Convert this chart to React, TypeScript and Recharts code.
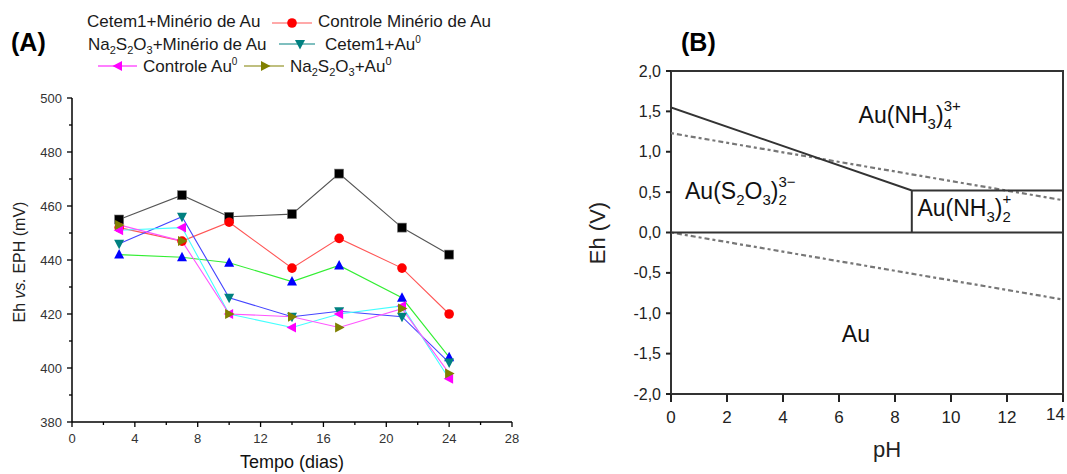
import React from 'react';
import {
  LineChart,
  Line,
  XAxis,
  YAxis,
  Legend,
  Label,
  ComposedChart,
  Scatter,
  ReferenceArea,
} from 'recharts';

const FONT = 'Arial, "Liberation Sans", sans-serif';

// ---------- Panel A data ----------
const days = [3, 7, 10, 14, 17, 21, 24];
const cetem1Minerio = [455, 464, 456, 457, 472, 452, 442];
const controleMinerio = [452, 447, 454, 437, 448, 437, 420];
const tiossulfatoMinerio = [442, 441, 439, 432, 438, 426, 404];
const cetem1Au = [446, 456, 426, 419, 421, 419, 402];
const controleAu = [451, 452, 420, 415, 420, 423, 396];
const tiossulfatoAu = [453, 447, 420, 419, 415, 422, 398];
const xTicksA = [0, 2, 4, 6, 8, 10, 12, 14, 16, 18, 20, 22, 24, 26, 28];
const yTicksA = [380, 390, 400, 410, 420, 430, 440, 450, 460, 470, 480, 490, 500];

const seriesNames = [
  'Cetem1+Minério de Au',
  'Controle Minério de Au',
  'Na2S2O3+Minério de Au',
  'Cetem1+Au0',
  'Controle Au0',
  'Na2S2O3+Au0',
];
const seriesValues = [cetem1Minerio, controleMinerio, tiossulfatoMinerio, cetem1Au, controleAu, tiossulfatoAu];
const markerColors = ['#000000', '#ff0000', '#0000ff', '#008080', '#ff00ff', '#808000'];
const lineColors = ['#555555', '#ff5555', '#33ee33', '#4444ff', '#44ffff', '#ff55ff'];
const markerShapes = ['square', 'circle', 'up', 'down', 'left', 'right'];

const dataA = days.map((d, i) => {
  const row: any = { day: d };
  seriesValues.forEach((vals, k) => {
    row['s' + k] = vals[i];
  });
  return row;
});

// ---------- Panel B data ----------
const xTicksB = [0, 2, 4, 6, 8, 10, 12, 14];
const yTicksB = [-2, -1.5, -1, -0.5, 0, 0.5, 1, 1.5, 2];
const nh3Boundary = [
  { ph: 0, eh: 1.55 },
  { ph: 8.6, eh: 0.52 },
  { ph: 14, eh: 0.52 },
];
const verticalBoundary = [
  { ph: 8.6, eh: 0.52 },
  { ph: 8.6, eh: 0 },
];
const zeroBoundary = [
  { ph: 0, eh: 0 },
  { ph: 14, eh: 0 },
];
const oxygenLine = [
  { ph: 0, eh: 1.23 },
  { ph: 14, eh: 0.4 },
];
const hydrogenLine = [
  { ph: 0, eh: 0 },
  { ph: 14, eh: -0.83 },
];
const speciesLabels = [
  { ph: 6.7, eh: 1.35, id: 'nh34' },
  { ph: 0.5, eh: 0.42, id: 's2o3' },
  { ph: 8.8, eh: 0.2, id: 'nh32' },
  { ph: 6.1, eh: -1.36, id: 'au' },
];

// ---------- helpers ----------
type Part = { t: string; k?: 'n' | 'sub' | 'sup'; dx?: number };

function Rich({ x, y, size, parts, fill = '#111', subShift, supShift, small }: any) {
  let cur = 0;
  const sub = subShift ?? size * 0.28;
  const sup = supShift ?? size * 0.42;
  const sm = small ?? size * 0.68;
  return (
    <text x={x} y={y} fontSize={size} fontFamily={FONT} fill={fill}>
      {parts.map((p: Part, i: number) => {
        const kind = p.k || 'n';
        const target = kind === 'sub' ? sub : kind === 'sup' ? -sup : 0;
        const dy = target - cur;
        cur = target;
        return (
          <tspan key={i} dy={dy} dx={p.dx || 0} fontSize={kind === 'n' ? size : sm}>
            {p.t}
          </tspan>
        );
      })}
    </text>
  );
}

function Marker({ cx, cy, shape, color }: any) {
  if (cx == null || cy == null) return null;
  switch (shape) {
    case 'square':
      return <rect x={cx - 4.5} y={cy - 4.5} width={9} height={9} fill={color} stroke="#777" strokeWidth={0.6} />;
    case 'circle':
      return <circle cx={cx} cy={cy} r={4.8} fill={color} />;
    case 'up':
      return <polygon points={`${cx},${cy - 5.5} ${cx + 5},${cy + 4} ${cx - 5},${cy + 4}`} fill={color} />;
    case 'down':
      return <polygon points={`${cx},${cy + 5.5} ${cx + 5},${cy - 4} ${cx - 5},${cy - 4}`} fill={color} />;
    case 'left':
      return <polygon points={`${cx - 5.5},${cy} ${cx + 4},${cy - 5} ${cx + 4},${cy + 5}`} fill={color} />;
    case 'right':
      return <polygon points={`${cx + 5.5},${cy} ${cx - 4},${cy - 5} ${cx - 4},${cy + 5}`} fill={color} />;
    default:
      return null;
  }
}

const YTickA = (props: any) => {
  const { x, y, payload } = props;
  const major = payload.value % 20 === 0;
  return (
    <g>
      <line x1={x} x2={x - (major ? 5 : 3)} y1={y} y2={y} stroke="#000" strokeWidth={1.3} />
      {major && (
        <text x={x - 10} y={y + 4.5} textAnchor="end" fontSize={13} fontFamily={FONT} fill="#333">
          {payload.value}
        </text>
      )}
    </g>
  );
};

const XTickA = (props: any) => {
  const { x, y, payload } = props;
  const major = payload.value % 4 === 0;
  return (
    <g>
      <line x1={x} x2={x} y1={y} y2={y + (major ? 5 : 3)} stroke="#000" strokeWidth={1.3} />
      {major && (
        <text x={x} y={y + 21} textAnchor="middle" fontSize={13} fontFamily={FONT} fill="#333">
          {payload.value}
        </text>
      )}
    </g>
  );
};

const YTickB = (props: any) => {
  const { x, y, payload } = props;
  const label = payload.value.toFixed(1).replace('.', ',');
  return (
    <g>
      <line x1={x} x2={x - 5} y1={y} y2={y} stroke="#222" strokeWidth={2} />
      <text x={x - 10} y={y + 5.5} textAnchor="end" fontSize={16} fontFamily={FONT} fill="#222">
        {label}
      </text>
    </g>
  );
};

const XTickB = (props: any) => {
  const { x, y, payload } = props;
  const last = payload.value === 14;
  return (
    <g>
      <line x1={x} x2={x} y1={y} y2={y + 8} stroke="#222" strokeWidth={2} />
      <text
        x={last ? x + 2 : x}
        y={y + (last ? 26 : 29)}
        textAnchor={last ? 'end' : 'middle'}
        fontSize={17}
        fontFamily={FONT}
        fill="#222"
      >
        {payload.value}
      </text>
    </g>
  );
};

const LegendA = () => {
  const fs = 17;
  const tc = '#1a1a1a';
  return (
    <svg width={540} height={80} style={{ display: 'block' }}>
      <text x={11} y={51} fontSize={25} fontWeight="bold" fontFamily={FONT} fill="#000">
        (A)
      </text>
      {/* row 1 */}
      <Rich x={87} y={27} size={fs} fill={tc} parts={[{ t: seriesNames[0] }]} />
      <line x1={272} x2={312} y1={23} y2={23} stroke={lineColors[1]} strokeWidth={1.2} />
      <Marker cx={292} cy={23} shape={markerShapes[1]} color={markerColors[1]} />
      <Rich x={318} y={27} size={fs} fill={tc} parts={[{ t: seriesNames[1] }]} />
      {/* row 2 */}
      <Rich
        x={88}
        y={50}
        size={fs}
        fill={tc}
        small={11}
        subShift={4}
        parts={[{ t: 'Na' }, { t: '2', k: 'sub' }, { t: 'S' }, { t: '2', k: 'sub' }, { t: 'O' }, { t: '3', k: 'sub' }, { t: '+Minério de Au' }]}
      />
      <line x1={279} x2={315} y1={44} y2={44} stroke={markerColors[3]} strokeWidth={1.2} />
      <Marker cx={300} cy={44} shape={markerShapes[3]} color={markerColors[3]} />
      <Rich x={325} y={50} size={fs} fill={tc} small={10} supShift={7} parts={[{ t: 'Cetem1+Au' }, { t: '0', k: 'sup' }]} />
      {/* row 3 */}
      <line x1={98} x2={137} y1={66} y2={66} stroke={markerColors[4]} strokeWidth={1.2} />
      <Marker cx={118} cy={66} shape={markerShapes[4]} color={markerColors[4]} />
      <Rich x={143} y={72} size={fs} fill={tc} small={10} supShift={7} parts={[{ t: 'Controle Au' }, { t: '0', k: 'sup' }]} />
      <line x1={244} x2={284} y1={66} y2={66} stroke={markerColors[5]} strokeWidth={1.2} />
      <Marker cx={265} cy={66} shape={markerShapes[5]} color={markerColors[5]} />
      <Rich
        x={290}
        y={72}
        size={fs}
        fill={tc}
        small={11}
        subShift={4}
        supShift={7}
        parts={[{ t: 'Na' }, { t: '2', k: 'sub' }, { t: 'S' }, { t: '2', k: 'sub' }, { t: 'O' }, { t: '3', k: 'sub' }, { t: '+Au' }, { t: '0', k: 'sup' }]}
      />
    </svg>
  );
};

const YLabelA = () => (
  <text
    transform="rotate(-90, 19, 262)"
    x={19}
    y={262}
    textAnchor="middle"
    dominantBaseline="central"
    fontSize={16}
    fontFamily={FONT}
    fill="#222"
  >
    {'Eh '}
    <tspan fontStyle="italic">vs.</tspan>
    {' EPH (mV)'}
  </text>
);

const XLabelA = () => (
  <text x={292} y={468} textAnchor="middle" fontSize={18} fontFamily={FONT} fill="#111">
    Tempo (dias)
  </text>
);

const YLabelB = () => (
  <g>
    <text x={121} y={51} fontSize={25} fontWeight="bold" fontFamily={FONT} fill="#000">
      (B)
    </text>
    <text
      transform="rotate(-90, 37, 233)"
      x={37}
      y={233}
      textAnchor="middle"
      dominantBaseline="central"
      fontSize={22}
      fontFamily={FONT}
      fill="#222"
    >
      Eh (V)
    </text>
  </g>
);

const XLabelB = () => (
  <text x={327} y={457} textAnchor="middle" fontSize={22} fontFamily={FONT} fill="#222">
    pH
  </text>
);

const SpeciesShape = (props: any) => {
  const { cx, cy, payload } = props;
  const size = 23;
  const sm = 15;
  const common = { size, small: sm, subShift: 6, supShift: 12, fill: '#111' };
  if (payload.id === 'nh34') {
    return (
      <Rich
        x={cx}
        y={cy}
        {...common}
        parts={[{ t: 'Au(NH' }, { t: '3', k: 'sub' }, { t: ')' }, { t: '4', k: 'sub' }, { t: '3+', k: 'sup', dx: -8.3 }]}
      />
    );
  }
  if (payload.id === 's2o3') {
    return (
      <Rich
        x={cx}
        y={cy}
        {...common}
        parts={[
          { t: 'Au(S' },
          { t: '2', k: 'sub' },
          { t: 'O' },
          { t: '3', k: 'sub' },
          { t: ')' },
          { t: '2', k: 'sub' },
          { t: '3−', k: 'sup', dx: -8.3 },
        ]}
      />
    );
  }
  if (payload.id === 'nh32') {
    return (
      <Rich
        x={cx}
        y={cy}
        {...common}
        parts={[{ t: 'Au(NH' }, { t: '3', k: 'sub' }, { t: ')' }, { t: '2', k: 'sub' }, { t: '+', k: 'sup', dx: -8.3 }]}
      />
    );
  }
  return <Rich x={cx} y={cy} {...common} parts={[{ t: 'Au' }]} />;
};

export default function App() {
  return (
    <div
      style={{
        position: 'fixed',
        left: 0,
        top: 0,
        width: 1067,
        height: 474,
        background: '#fff',
        fontFamily: FONT,
        overflow: 'hidden',
      }}
    >
      <div style={{ position: 'absolute', left: 0, top: 0 }}>
        <LineChart width={540} height={474} data={dataA} margin={{ top: 18, right: 28, bottom: 0, left: 0 }}>
          <Legend
            verticalAlign="top"
            align="left"
            content={() => <LegendA />}
            wrapperStyle={{ position: 'absolute', top: 0, left: 0, width: 540, height: 80, margin: 0, padding: 0 }}
          />
          <XAxis
            dataKey="day"
            type="number"
            domain={[0, 28]}
            ticks={xTicksA}
            interval={0}
            height={52}
            tickSize={0}
            tickMargin={0}
            tickLine={false}
            tick={<XTickA />}
            axisLine={{ stroke: '#000', strokeWidth: 1.5 }}
          >
            <Label content={() => <XLabelA />} />
          </XAxis>
          <YAxis
            type="number"
            domain={[380, 500]}
            ticks={yTicksA}
            interval={0}
            width={72}
            tickSize={0}
            tickMargin={0}
            tickLine={false}
            tick={<YTickA />}
            axisLine={{ stroke: '#000', strokeWidth: 1.5 }}
          >
            <Label content={() => <YLabelA />} />
          </YAxis>
          {seriesNames.map((name, k) => (
            <Line
              key={name}
              name={name}
              dataKey={'s' + k}
              type="linear"
              stroke={lineColors[k]}
              strokeWidth={1.1}
              isAnimationActive={false}
              activeDot={false}
              dot={(p: any) => (
                <Marker key={name + '-' + p.index} cx={p.cx} cy={p.cy} shape={markerShapes[k]} color={markerColors[k]} />
              )}
            />
          ))}
        </LineChart>
      </div>
      <div style={{ position: 'absolute', left: 560, top: 0 }}>
        <ComposedChart width={507} height={474} margin={{ top: 71, right: 4, bottom: 0, left: 0 }}>
          <XAxis
            dataKey="ph"
            type="number"
            domain={[0, 14]}
            ticks={xTicksB}
            interval={0}
            height={80}
            tickSize={0}
            tickMargin={0}
            tickLine={false}
            tick={<XTickB />}
            axisLine={false}
            allowDataOverflow
          >
            <Label content={() => <XLabelB />} />
          </XAxis>
          <YAxis
            type="number"
            domain={[-2, 2]}
            ticks={yTicksB}
            interval={0}
            width={111}
            tickSize={0}
            tickMargin={0}
            tickLine={false}
            tick={<YTickB />}
            axisLine={false}
            allowDataOverflow
          >
            <Label content={() => <YLabelB />} />
          </YAxis>
          <ReferenceArea x1={0} x2={14} y1={-2} y2={2} fill="none" fillOpacity={0} stroke="#333" strokeWidth={2} ifOverflow="visible" />
          <Line data={oxygenLine} dataKey="eh" type="linear" stroke="#777" strokeWidth={2.2} strokeDasharray="3 3 5 3" dot={false} activeDot={false} isAnimationActive={false} />
          <Line data={hydrogenLine} dataKey="eh" type="linear" stroke="#777" strokeWidth={2.2} strokeDasharray="3 3 5 3" dot={false} activeDot={false} isAnimationActive={false} />
          <Line data={nh3Boundary} dataKey="eh" type="linear" stroke="#333" strokeWidth={2} dot={false} activeDot={false} isAnimationActive={false} />
          <Line data={verticalBoundary} dataKey="eh" type="linear" stroke="#333" strokeWidth={2} dot={false} activeDot={false} isAnimationActive={false} />
          <Line data={zeroBoundary} dataKey="eh" type="linear" stroke="#333" strokeWidth={2} dot={false} activeDot={false} isAnimationActive={false} />
          <Scatter data={speciesLabels} dataKey="eh" shape={<SpeciesShape />} isAnimationActive={false} />
        </ComposedChart>
      </div>
    </div>
  );
}
